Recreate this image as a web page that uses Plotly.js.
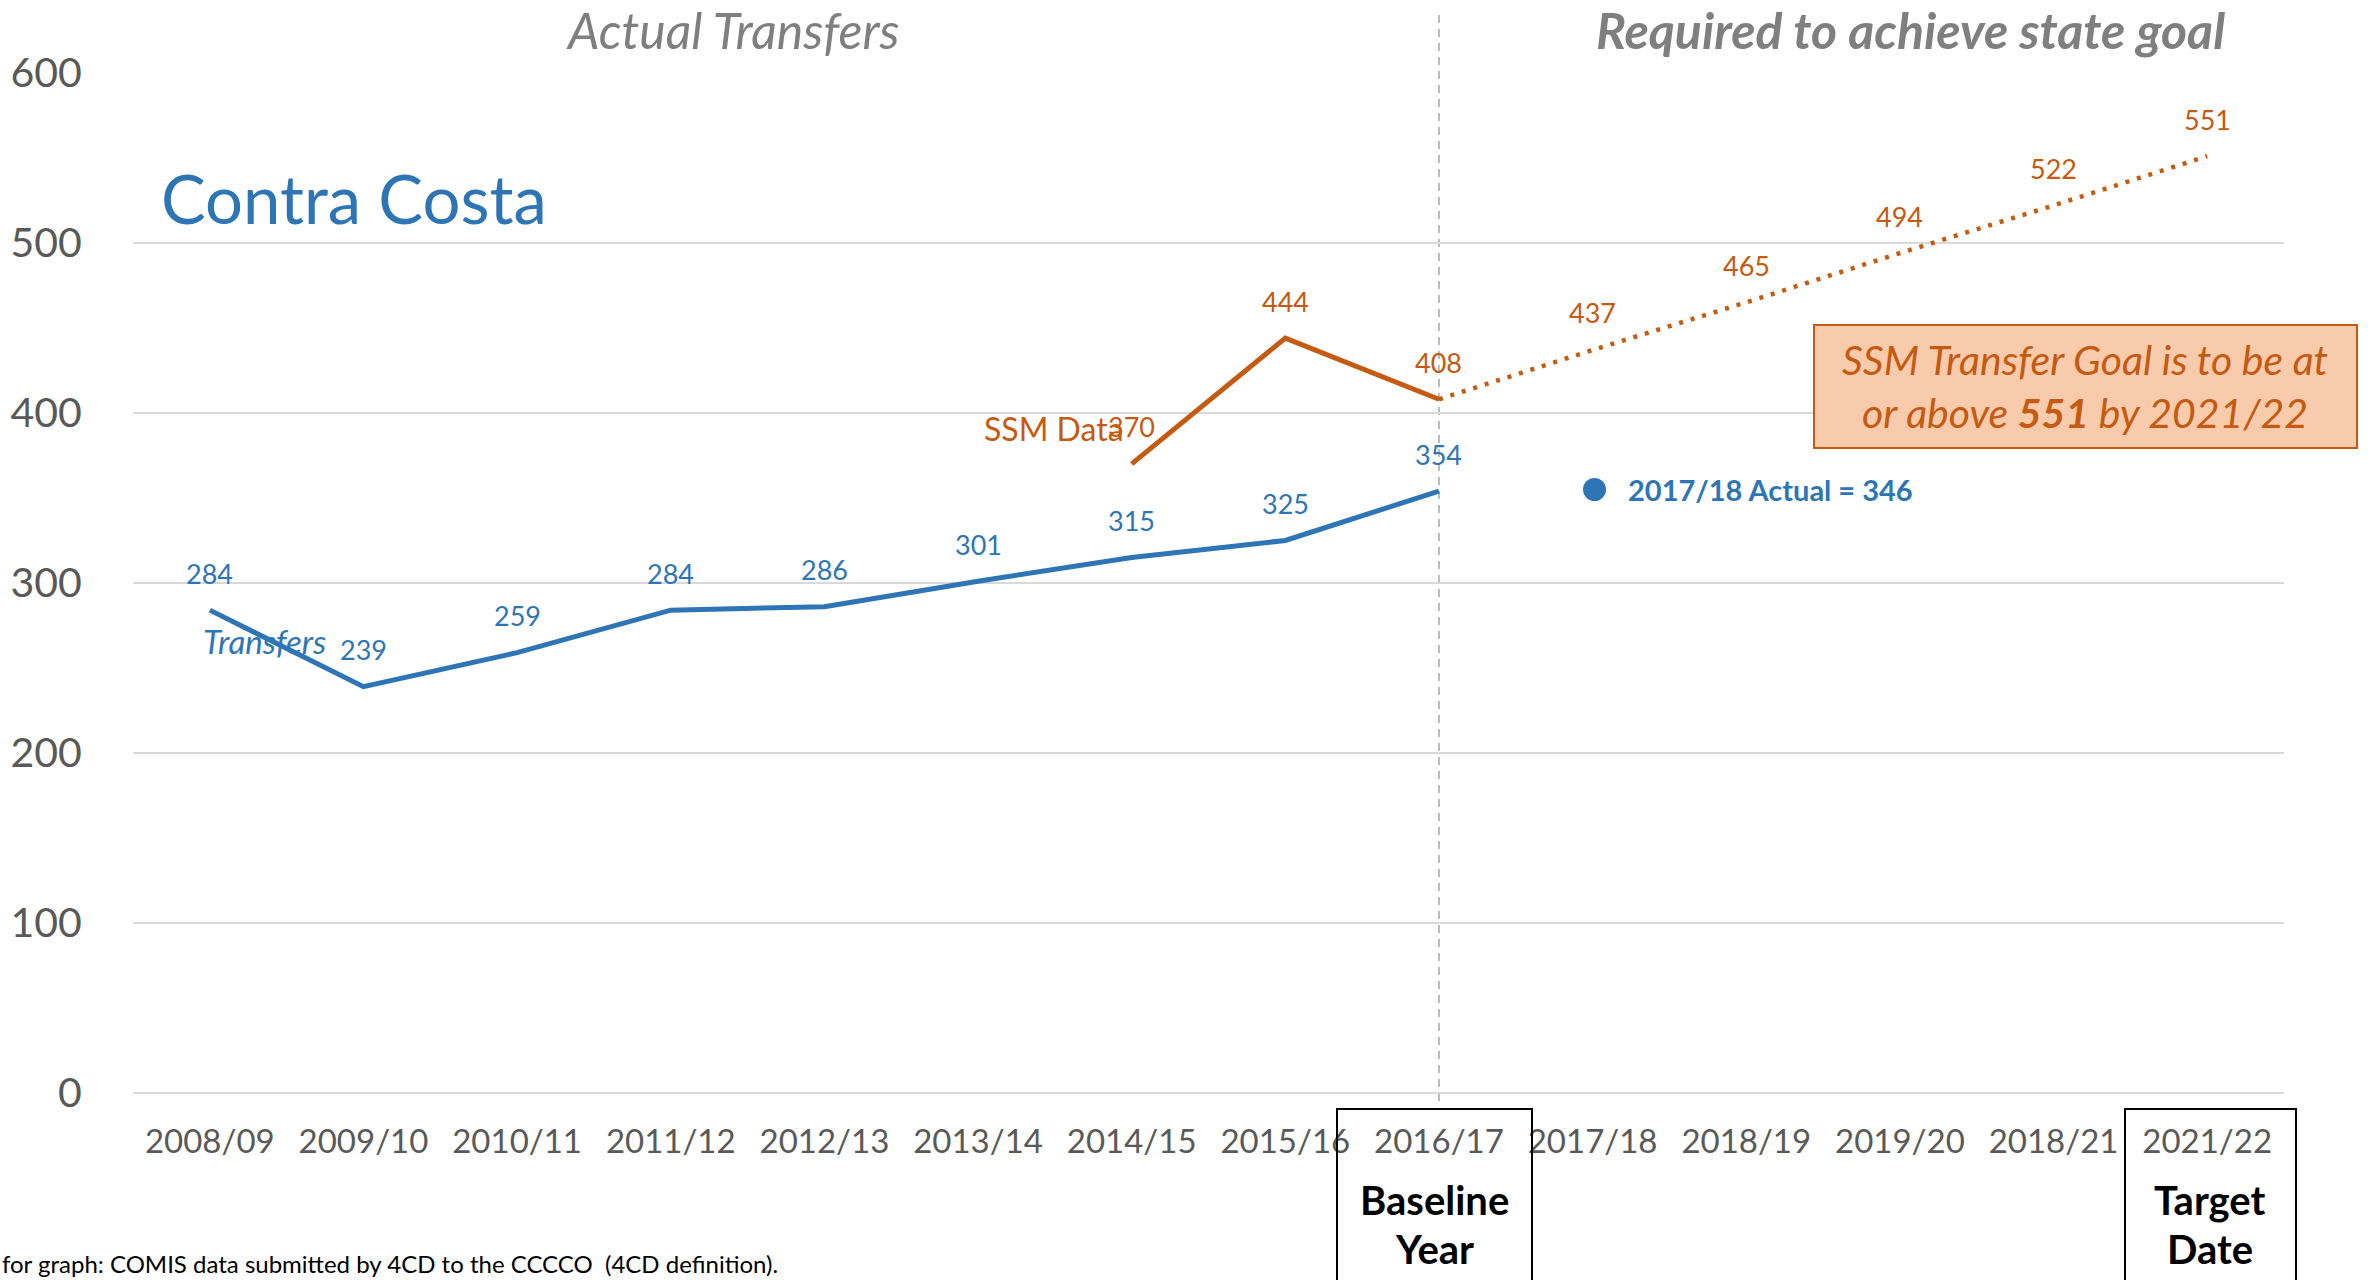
<!DOCTYPE html>
<html>
<head>
<meta charset="utf-8">
<script src="https://cdn.plot.ly/plotly-3.0.1.min.js"></script>
<style>html,body{margin:0;padding:0;background:#fff;}#chart{width:2372px;height:1280px;}</style>
</head>
<body>
<div id="chart"></div>
<script>
// ---- data ----
const categories = ["2008/09","2009/10","2010/11","2011/12","2012/13","2013/14","2014/15","2015/16","2016/17","2017/18","2018/19","2019/20","2018/21","2021/22"];
const transferYears = ["2008/09","2009/10","2010/11","2011/12","2012/13","2013/14","2014/15","2015/16","2016/17"];
const transferValues = [284,239,259,284,286,301,315,325,354];
const ssmYears = ["2014/15","2015/16","2016/17"];
const ssmValues = [370,444,408];
const goalYears = ["2016/17","2017/18","2018/19","2019/20","2018/21","2021/22"];
const goalValues = [408,437,465,494,522,551];
const yTicks = [0,100,200,300,400,500,600];

const BLUE = "#2E75B6", ORANGE = "#C55A11", GREY = "#7F7F7F", TICK = "#595959";
const FONT = "Lato, 'Open Sans', sans-serif";

// plot area in pixels
const L = 133, R = 2284, T = 72, B = 1093;
const W = R - L, H = B - T;
const px = x => (x - L) / W;
const py = y => (B - y) / H;

const traces = [
  {x: transferYears, y: transferValues, type: "scatter", mode: "lines",
   line: {color: BLUE, width: 5}, hoverinfo: "x+y", cliponaxis: false},
  {x: ssmYears, y: ssmValues, type: "scatter", mode: "lines",
   line: {color: ORANGE, width: 5}, hoverinfo: "x+y", cliponaxis: false},
  {x: goalYears, y: goalValues, type: "scatter", mode: "lines",
   line: {color: ORANGE, width: 4.5, dash: "4px,8px"}, hoverinfo: "x+y", cliponaxis: false}
];

const annotations = [];
const labelFont = (c) => ({family: FONT, size: 27, color: c});
transferYears.forEach((c, i) => {
  annotations.push({x: c, y: transferValues[i], xref: "x", yref: "y", text: String(transferValues[i]),
    showarrow: false, yshift: 37, xanchor: "center", yanchor: "middle", font: labelFont(BLUE)});
});
ssmYears.forEach((c, i) => {
  annotations.push({x: c, y: ssmValues[i], xref: "x", yref: "y", text: String(ssmValues[i]),
    showarrow: false, yshift: 37, xanchor: "center", yanchor: "middle", font: labelFont(ORANGE)});
});
goalYears.forEach((c, i) => {
  if (i === 0) return;
  annotations.push({x: c, y: goalValues[i], xref: "x", yref: "y", text: String(goalValues[i]),
    showarrow: false, yshift: 37, xanchor: "center", yanchor: "middle", font: labelFont(ORANGE)});
});

// texts
annotations.push(
  {xref: "paper", yref: "paper", x: px(732), y: py(30), text: "<i>Actual Transfers</i>", showarrow: false,
   xanchor: "center", yanchor: "middle", font: {family: FONT, size: 50, color: GREY}},
  {xref: "paper", yref: "paper", x: px(1910), y: py(30), text: "<b><i>Required to achieve state goal</i></b>", showarrow: false,
   xanchor: "center", yanchor: "middle", font: {family: FONT, size: 50, color: GREY}},
  {xref: "paper", yref: "paper", x: px(159), y: py(198), text: "Contra Costa", showarrow: false,
   xanchor: "left", yanchor: "middle", font: {family: FONT, size: 67, color: BLUE}},
  {xref: "paper", yref: "paper", x: px(201), y: py(641), text: "<i>Transfers</i>", showarrow: false,
   xanchor: "left", yanchor: "middle", font: {family: FONT, size: 33, color: BLUE}},
  {xref: "paper", yref: "paper", x: px(982), y: py(428), text: "SSM Data", showarrow: false,
   xanchor: "left", yanchor: "middle", font: {family: FONT, size: 32, color: ORANGE}},
  {xref: "paper", yref: "paper", x: px(1626), y: py(489), text: "<b>2017/18 Actual = 346</b>", showarrow: false,
   xanchor: "left", yanchor: "middle", font: {family: FONT, size: 29, color: BLUE}},
  {xref: "paper", yref: "paper", x: px(2085), y: py(386),
   text: "<i>SSM Transfer Goal is to be at<br>or above <b>551</b> by 2021/22</i>", showarrow: false,
   xanchor: "center", yanchor: "middle", align: "center", font: {family: FONT, size: 41, color: ORANGE}},
  {xref: "paper", yref: "paper", x: px(1434), y: py(1200), text: "<b>Baseline</b>", showarrow: false,
   xanchor: "center", yanchor: "middle", font: {family: FONT, size: 40, color: "#000"}},
  {xref: "paper", yref: "paper", x: px(1434), y: py(1249), text: "<b>Year</b>", showarrow: false,
   xanchor: "center", yanchor: "middle", font: {family: FONT, size: 40, color: "#000"}},
  {xref: "paper", yref: "paper", x: px(2210), y: py(1200), text: "<b>Target</b>", showarrow: false,
   xanchor: "center", yanchor: "middle", font: {family: FONT, size: 40, color: "#000"}},
  {xref: "paper", yref: "paper", x: px(2210), y: py(1249), text: "<b>Date</b>", showarrow: false,
   xanchor: "center", yanchor: "middle", font: {family: FONT, size: 40, color: "#000"}},
  {xref: "paper", yref: "paper", x: px(0), y: py(1263), text: "for graph: COMIS data submitted by 4CD to the CCCCO  (4CD definition).", showarrow: false,
   xanchor: "left", yanchor: "middle", font: {family: FONT, size: 24, color: "#000"}}
);

const shapes = [
  {type: "line", xref: "x", yref: "paper", x0: "2016/17", x1: "2016/17", y0: py(15), y1: py(1103),
   line: {color: "#A6A6A6", width: 1.5, dash: "8px,6px"}, layer: "below"},
  {type: "rect", xref: "paper", yref: "paper", x0: px(1814), x1: px(2357), y0: py(325), y1: py(448),
   fillcolor: "#F8CBAD", line: {color: ORANGE, width: 2}},
  {type: "rect", xref: "paper", yref: "paper", x0: px(1337), x1: px(1532), y0: py(1109), y1: py(1290),
   fillcolor: "rgba(0,0,0,0)", line: {color: "#000", width: 2}},
  {type: "rect", xref: "paper", yref: "paper", x0: px(2125), x1: px(2296), y0: py(1109), y1: py(1290),
   fillcolor: "rgba(0,0,0,0)", line: {color: "#000", width: 2}},
  {type: "circle", xref: "paper", yref: "paper", x0: px(1583), x1: px(1606), y0: py(478), y1: py(501),
   fillcolor: BLUE, line: {color: BLUE, width: 0}}
];

const layout = {
  width: 2372, height: 1280,
  margin: {l: L, r: 2372 - R, t: T, b: 1280 - B, pad: 0},
  paper_bgcolor: "#fff", plot_bgcolor: "#fff",
  showlegend: false,
  font: {family: FONT},
  xaxis: {type: "category", categoryarray: categories, categoryorder: "array", range: [-0.5, 13.5],
    showgrid: false, zeroline: false, showline: false, ticks: "outside", ticklen: 19, tickcolor: "rgba(0,0,0,0)",
    tickfont: {family: FONT, size: 33, color: TICK}, fixedrange: true},
  yaxis: {range: [0, 600.5], tickvals: yTicks, ticktext: yTicks.map(String), showgrid: true, gridcolor: "#D9D9D9", gridwidth: 2,
    zeroline: true, zerolinecolor: "#D9D9D9", zerolinewidth: 2, showline: false,
    ticks: "outside", ticklen: 42, tickcolor: "rgba(0,0,0,0)",
    tickfont: {family: FONT, size: 41, color: TICK}, fixedrange: true},
  annotations: annotations,
  shapes: shapes
};

Plotly.newPlot("chart", traces, layout, {displayModeBar: false, staticPlot: true});
</script>
</body>
</html>
